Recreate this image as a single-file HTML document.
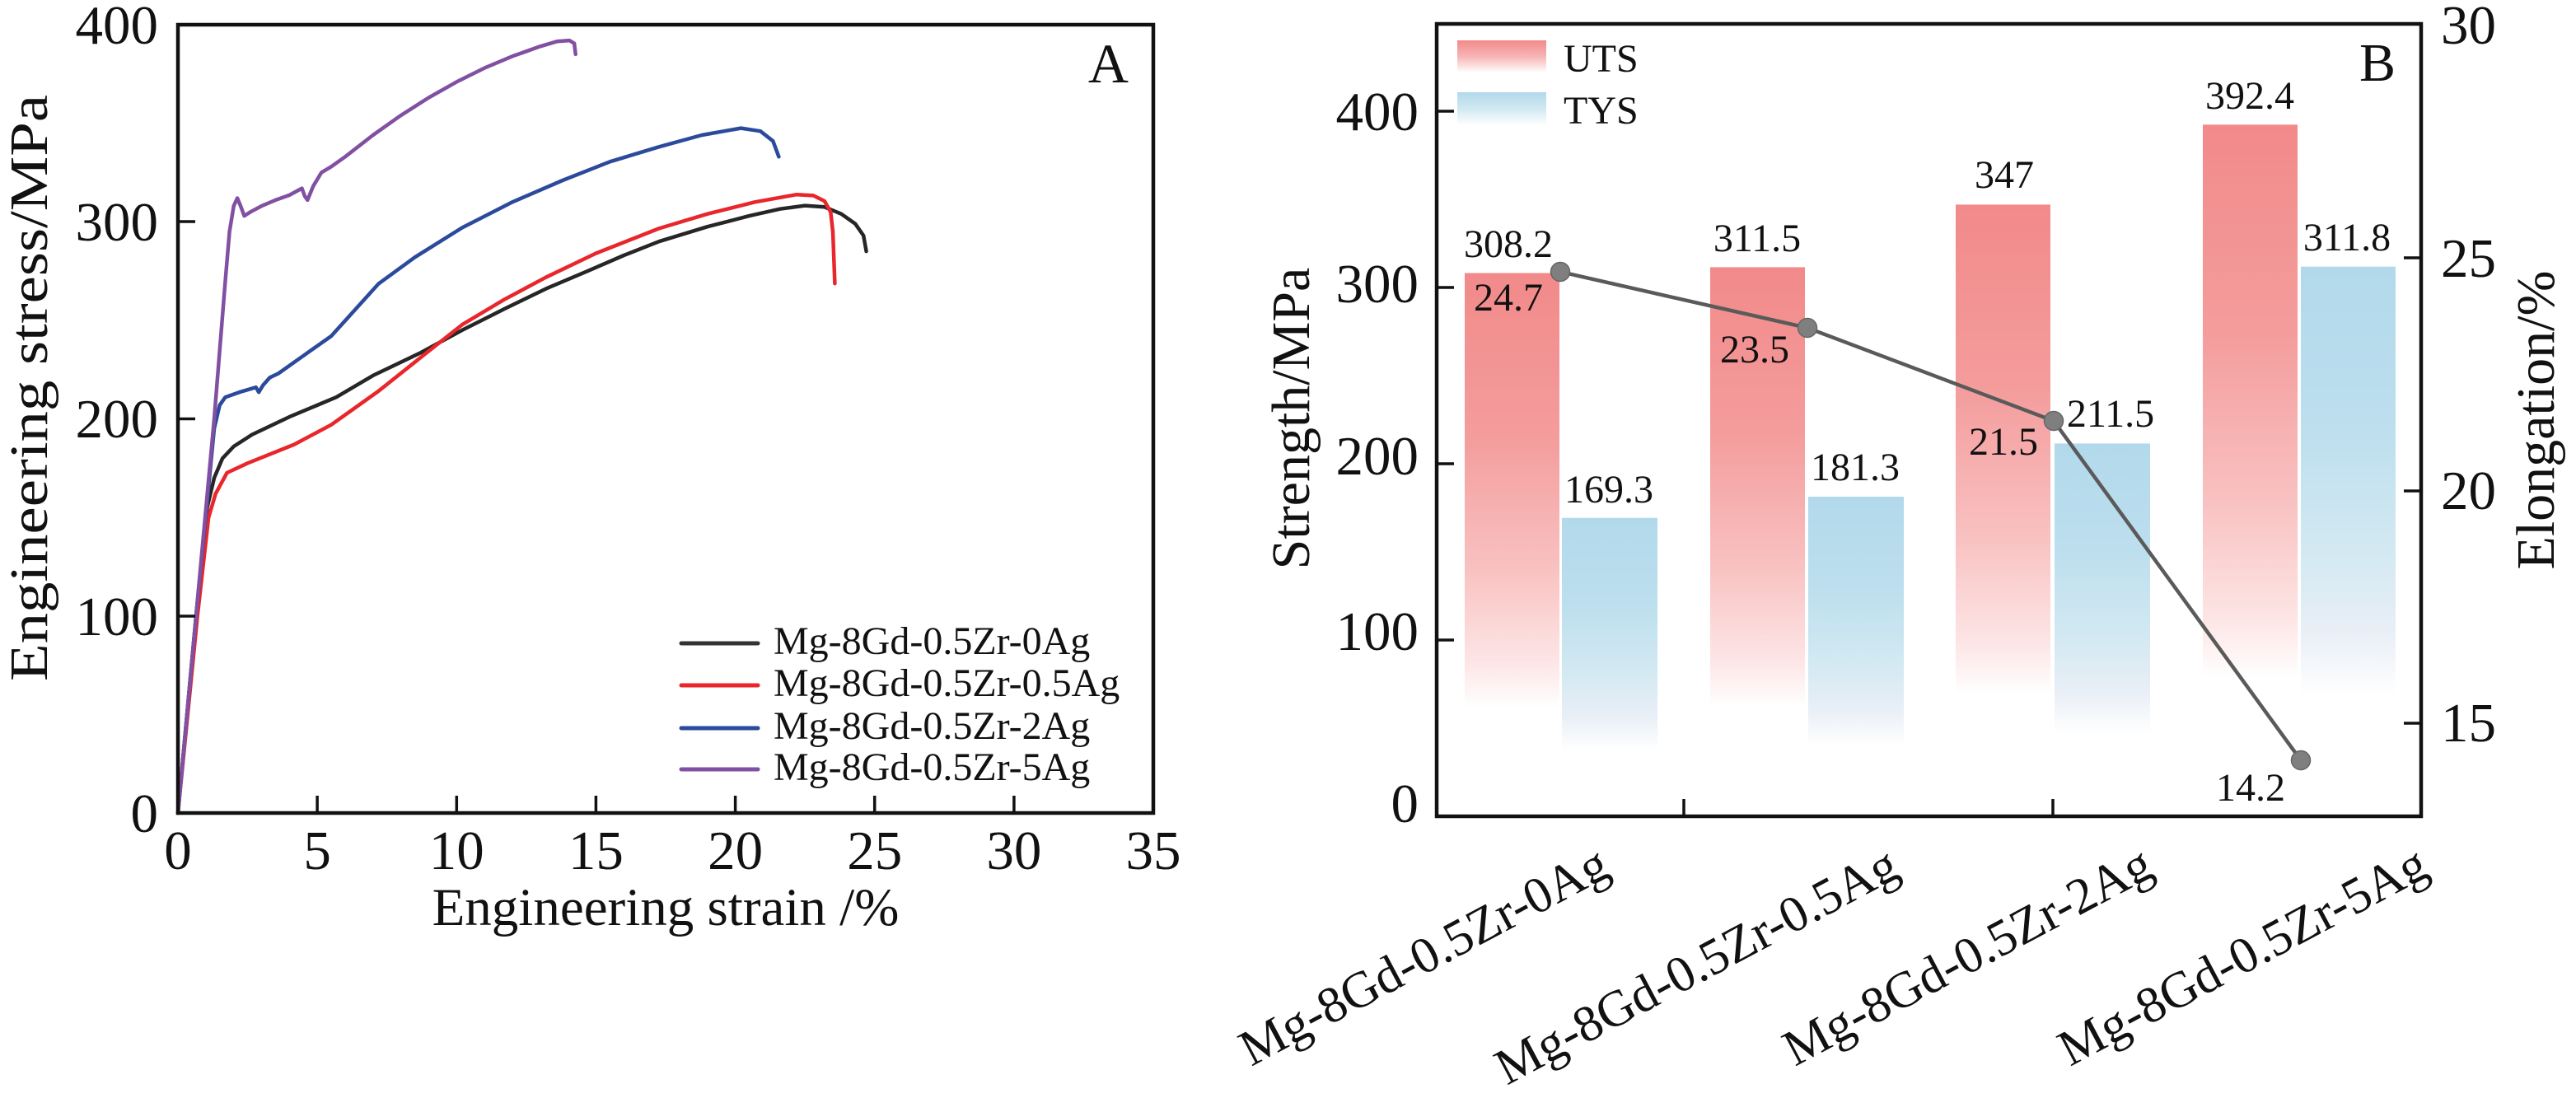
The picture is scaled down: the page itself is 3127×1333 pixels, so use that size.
<!DOCTYPE html>
<html>
<head>
<meta charset="utf-8">
<style>
html,body{margin:0;padding:0;background:#fff;}
svg{display:block;}
text{font-family:"Liberation Serif","Times New Roman",serif;fill:#111;}
</style>
</head>
<body>
<svg width="3127" height="1333" viewBox="0 0 3127 1333" xmlns="http://www.w3.org/2000/svg">
<defs>
  <linearGradient id="gU" x1="0" y1="0" x2="0" y2="1">
    <stop offset="0" stop-color="#f28a8a"/>
    <stop offset="0.3" stop-color="#f49c9c"/>
    <stop offset="0.55" stop-color="#f9c2c2"/>
    <stop offset="0.72" stop-color="#fde6e6"/>
    <stop offset="0.8" stop-color="#ffffff"/>
    <stop offset="1" stop-color="#ffffff"/>
  </linearGradient>
  <linearGradient id="gT" x1="0" y1="0" x2="0" y2="1">
    <stop offset="0" stop-color="#b2d9eb"/>
    <stop offset="0.3" stop-color="#bddfee"/>
    <stop offset="0.52" stop-color="#d3e9f2"/>
    <stop offset="0.66" stop-color="#e8eef6"/>
    <stop offset="0.78" stop-color="#ffffff"/>
    <stop offset="1" stop-color="#ffffff"/>
  </linearGradient>
  <linearGradient id="gUL" x1="0" y1="0" x2="0" y2="1">
    <stop offset="0" stop-color="#f28a8a"/>
    <stop offset="0.5" stop-color="#f7b4b4"/>
    <stop offset="1" stop-color="#ffffff"/>
  </linearGradient>
  <linearGradient id="gTL" x1="0" y1="0" x2="0" y2="1">
    <stop offset="0" stop-color="#b2d9eb"/>
    <stop offset="0.5" stop-color="#d0e8f2"/>
    <stop offset="1" stop-color="#ffffff"/>
  </linearGradient>
</defs>
<rect x="0" y="0" width="3127" height="1333" fill="#fff"/>

<!-- ================= PANEL A ================= -->
<g fill="none" stroke-linejoin="round" stroke-linecap="round" stroke-width="4.5">
  <polyline stroke="#262626" points="216,987 238,747.75 251.5,616.2 260,580.3 270.1,556.4 283.7,542 306,527.6 351.3,506.1 408.2,482.2 452.8,455.9 510.3,428.4 561.1,400.8 611.8,375.3 662.6,350.6 713.3,329.1 757.3,310 799.9,293.2 858.8,275.2 909.5,262.1 946.7,253.7 977.2,249.6 1000.9,251.3 1021.2,259.7 1038.1,271.6 1048.2,286 1051.6,305.1"/>
  <polyline stroke="#e8262b" points="216,987 239.7,747.75 253.2,628.1 261.7,599.4 275.5,574 300.6,562.3 357.1,539.6 402.1,515.7 459.2,475 510.3,434.3 561.1,394.1 611.8,363.8 662.6,336.7 723.5,307.5 799.9,277.4 858.8,259.7 916.3,245.3 967,236.2 987.3,237.4 1000.9,244.1 1008.3,257.3 1011,281.2 1013.4,344.2"/>
  <polyline stroke="#2b4a9b" points="216,987 238,747.75 260,520.5 266.7,491.8 273.5,482.2 290.4,476.2 310.7,470.2 314.1,476.2 319.2,467.8 327.6,458.3 337.8,453.5 368.2,431.9 402.1,408 459.6,344.4 503.6,312.3 561.1,276.4 622,245.3 682.9,219 740.4,196.3 799.9,178.3 852,164 899.4,155.6 923,159.2 938.3,171.2 945.4,190.3"/>
  <polyline stroke="#8150a2" points="216,987 238,747.75 260,508.5 273.5,341 278.6,281.2 283.7,250.1 288.1,240.5 292.1,250.1 296.5,262.1 304,257.3 317.5,250.1 334.4,242.9 351.3,236.9 366.5,228.6 369.9,238.1 373.3,242.9 380.1,226.2 390.2,209.4 402.1,202.3 419,190.3 452.8,164 486.6,140.1 520.5,118.5 554.3,99.4 588.1,82.6 622,68.3 655.8,56.3 676.1,50.3 691.3,49.1 697.1,52.7 698.7,65.9"/>
</g>

<rect x="216" y="30" width="1184" height="957" fill="none" stroke="#111" stroke-width="4.5"/>
<g stroke="#111" stroke-width="3.5">
  <line x1="385.1" y1="987" x2="385.1" y2="966"/>
  <line x1="554.3" y1="987" x2="554.3" y2="966"/>
  <line x1="723.4" y1="987" x2="723.4" y2="966"/>
  <line x1="892.6" y1="987" x2="892.6" y2="966"/>
  <line x1="1061.7" y1="987" x2="1061.7" y2="966"/>
  <line x1="1230.9" y1="987" x2="1230.9" y2="966"/>
  <line x1="216" y1="748" x2="237" y2="748"/>
  <line x1="216" y1="508.5" x2="237" y2="508.5"/>
  <line x1="216" y1="269" x2="237" y2="269"/>
</g>
<g font-size="67" text-anchor="middle">
  <text x="216" y="1055">0</text>
  <text x="385.1" y="1055">5</text>
  <text x="554.3" y="1055">10</text>
  <text x="723.4" y="1055">15</text>
  <text x="892.6" y="1055">20</text>
  <text x="1061.7" y="1055">25</text>
  <text x="1230.9" y="1055">30</text>
  <text x="1400" y="1055">35</text>
</g>
<g font-size="67" text-anchor="end">
  <text x="192" y="1010">0</text>
  <text x="192" y="771">100</text>
  <text x="192" y="531">200</text>
  <text x="192" y="292">300</text>
  <text x="192" y="53">400</text>
</g>
<text x="808" y="1123" font-size="65" text-anchor="middle">Engineering strain /%</text>
<text transform="translate(57,471) rotate(-90)" font-size="66" text-anchor="middle" textLength="712" lengthAdjust="spacingAndGlyphs">Engineering stress/MPa</text>
<text x="1370" y="100" font-size="68" text-anchor="end">A</text>

<g stroke-width="5" stroke-linecap="round">
  <line x1="827" y1="781" x2="920" y2="781" stroke="#333"/>
  <line x1="827" y1="832" x2="920" y2="832" stroke="#e8262b"/>
  <line x1="827" y1="884" x2="920" y2="884" stroke="#2b4a9b"/>
  <line x1="827" y1="934" x2="920" y2="934" stroke="#8150a2"/>
</g>
<g font-size="48">
  <text x="939" y="794">Mg-8Gd-0.5Zr-0Ag</text>
  <text x="939" y="845">Mg-8Gd-0.5Zr-0.5Ag</text>
  <text x="939" y="897">Mg-8Gd-0.5Zr-2Ag</text>
  <text x="939" y="947">Mg-8Gd-0.5Zr-5Ag</text>
</g>

<!-- ================= PANEL B ================= -->
<rect x="1778" y="331.5" width="115" height="659.5" fill="url(#gU)"/>
<rect x="1896" y="628.7" width="116" height="362.3" fill="url(#gT)"/>
<rect x="2076" y="324.4" width="115" height="666.6" fill="url(#gU)"/>
<rect x="2195" y="603" width="116" height="388" fill="url(#gT)"/>
<rect x="2374" y="248.4" width="115" height="742.6" fill="url(#gU)"/>
<rect x="2494" y="538.4" width="116" height="452.6" fill="url(#gT)"/>
<rect x="2674" y="151.3" width="115" height="839.7" fill="url(#gU)"/>
<rect x="2793" y="323.7" width="115" height="667.3" fill="url(#gT)"/>

<rect x="1744" y="29" width="1195" height="962" fill="none" stroke="#111" stroke-width="4.5"/>
<g stroke="#111" stroke-width="3.5">
  <line x1="1744" y1="777" x2="1765" y2="777"/>
  <line x1="1744" y1="563" x2="1765" y2="563"/>
  <line x1="1744" y1="349" x2="1765" y2="349"/>
  <line x1="1744" y1="135" x2="1765" y2="135"/>
  <line x1="2939" y1="878" x2="2918" y2="878"/>
  <line x1="2939" y1="596" x2="2918" y2="596"/>
  <line x1="2939" y1="313" x2="2918" y2="313"/>
  <line x1="2044" y1="991" x2="2044" y2="970"/>
  <line x1="2492" y1="991" x2="2492" y2="970"/>
</g>
<g font-size="67" text-anchor="end">
  <text x="1722" y="998">0</text>
  <text x="1722" y="789">100</text>
  <text x="1722" y="576">200</text>
  <text x="1722" y="367">300</text>
  <text x="1722" y="158">400</text>
</g>
<g font-size="67" text-anchor="start">
  <text x="2963" y="900">15</text>
  <text x="2963" y="618">20</text>
  <text x="2963" y="336">25</text>
  <text x="2963" y="53">30</text>
</g>
<text transform="translate(1589,508) rotate(-90)" font-size="66" text-anchor="middle">Strength/MPa</text>
<text transform="translate(3100,510) rotate(-90)" font-size="66" text-anchor="middle">Elongation/%</text>
<text x="2908" y="98" font-size="66" text-anchor="end">B</text>

<rect x="1769" y="49" width="108" height="39" fill="url(#gUL)"/>
<rect x="1769" y="112" width="108" height="40" fill="url(#gTL)"/>
<text x="1898" y="87" font-size="48">UTS</text>
<text x="1898" y="150" font-size="48">TYS</text>

<polyline points="1894,330 2194,398 2493,511 2793,923" fill="none" stroke="#5a5a5a" stroke-width="4.5"/>
<g fill="#7f7f7f" stroke="#666" stroke-width="1.5">
  <circle cx="1894" cy="330" r="11.5"/>
  <circle cx="2194" cy="398" r="11.5"/>
  <circle cx="2493" cy="511" r="11.5"/>
  <circle cx="2793" cy="923" r="11.5"/>
</g>

<g font-size="48" text-anchor="middle">
  <text x="1831" y="312">308.2</text>
  <text x="2133" y="305">311.5</text>
  <text x="2433" y="228">347</text>
  <text x="2731" y="132">392.4</text>
  <text x="1953" y="610">169.3</text>
  <text x="2252" y="583">181.3</text>
  <text x="2562" y="518">211.5</text>
  <text x="2849" y="304">311.8</text>
  <text x="1831" y="377">24.7</text>
  <text x="2130" y="440">23.5</text>
  <text x="2432" y="552">21.5</text>
  <text x="2732" y="972">14.2</text>
</g>

<g font-size="62" text-anchor="middle">
  <text transform="translate(1728,1160) rotate(-28)" y="21">Mg-8Gd-0.5Zr-0Ag</text>
  <text transform="translate(2059,1172) rotate(-28)" y="21">Mg-8Gd-0.5Zr-0.5Ag</text>
  <text transform="translate(2388,1160) rotate(-28)" y="21">Mg-8Gd-0.5Zr-2Ag</text>
  <text transform="translate(2722,1160) rotate(-28)" y="21">Mg-8Gd-0.5Zr-5Ag</text>
</g>
</svg>
</body>
</html>
